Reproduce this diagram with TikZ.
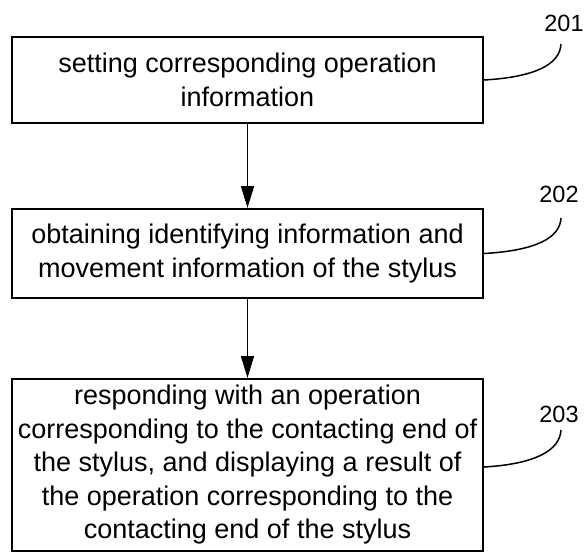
\documentclass[tikz,border=0pt]{standalone}
\usepackage{fontspec}
\setmainfont{Liberation Sans}
\usetikzlibrary{arrows.meta}
\begin{document}
\begin{tikzpicture}[x=1pt,y=-1pt,
  stepbox/.style={draw,line width=2pt,minimum width=471pt,align=center,inner sep=0pt,
    font=\fontsize{27}{33.5}\selectfont},
  lbl/.style={inner sep=0pt,font=\fontsize{23.5}{28}\selectfont},
  flow/.style={line width=1.5pt,-{Triangle[length=22pt,width=13pt]}},
  lead/.style={line width=1.5pt}]
\useasboundingbox (0,0) rectangle (587,552);
\node[stepbox,minimum height=86pt] (b1) at (247.5,80) {setting corresponding operation\\information};
\node[stepbox,minimum height=89pt] (b2) at (247.5,253.5) {obtaining identifying information and\\movement information of the stylus};
\node[stepbox,minimum height=172pt] (b3) at (247.5,465) {responding with an operation\\corresponding to the contacting end of\\the stylus, and displaying a result of\\the operation corresponding to the\\contacting end of the stylus};
\draw[flow] (b1.south) -- (b2.north);
\draw[flow] (b2.south) -- (b3.north);
\node[lbl] (l1) at (564,23.5) {201};
\node[lbl] (l2) at (559,194) {202};
\node[lbl] (l3) at (559,414) {203};
\coordinate (e1) at (561,44);
\coordinate (e2) at (561,218);
\coordinate (e3) at (561,430);
\draw[lead] (b1.east) .. controls +(52,-3) and +(-1,20) .. (e1);
\draw[lead] (b2.east) .. controls +(52,-3) and +(-1,20) .. (e2);
\draw[lead] ([yshift=-2pt]b3.east) .. controls +(52,-3) and +(-1,20) .. (e3);
\end{tikzpicture}
\end{document}
